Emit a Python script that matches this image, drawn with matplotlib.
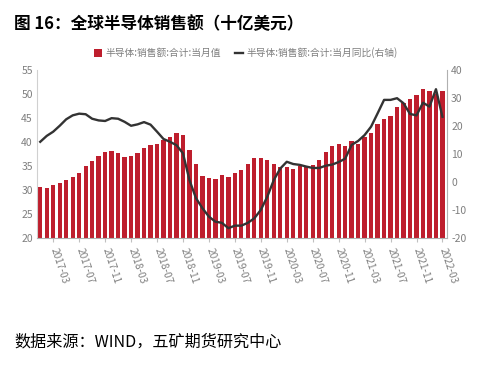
import matplotlib
matplotlib.use("Agg")
import matplotlib.pyplot as plt
from matplotlib.patches import Patch
from matplotlib.lines import Line2D
import numpy as np

plt.rcParams['font.family'] = ['Noto Sans CJK SC', 'DejaVu Sans']
plt.rcParams['axes.unicode_minus'] = False

# Monthly data 2017-01 .. 2022-03
sales = [30.6, 30.5, 31.0, 31.4, 32.0, 32.7, 33.6, 35.0, 36.0, 37.1, 37.8, 38.0, 37.6,
         36.9, 37.1, 37.6, 38.7, 39.4, 39.5, 40.3, 41.0, 41.8, 41.4, 38.3, 35.5,
         32.9, 32.4, 32.2, 33.1, 32.7, 33.5, 34.2, 35.5, 36.7, 36.7, 36.2, 35.4,
         34.8, 34.7, 34.4, 35.0, 34.7, 35.1, 36.3, 37.8, 39.1, 39.5, 39.1, 40.1, 39.6,
         41.1, 41.8, 43.7, 44.7, 45.4, 47.2, 48.1, 48.8, 49.8, 50.9, 50.6, 50.0, 50.6]
yoy = [14.3, 16.4, 17.9, 20.0, 22.3, 23.7, 24.3, 24.1, 22.5, 21.9, 21.7, 22.7, 22.5,
       21.4, 20.0, 20.5, 21.3, 20.4, 17.9, 15.3, 14.3, 13.1, 10.2, 0.7, -5.7,
       -9.3, -12.3, -14.1, -14.5, -16.4, -15.5, -15.5, -14.5, -12.9, -9.9, -5.2, 0.7,
       4.8, 7.2, 6.4, 6.1, 5.5, 5.0, 5.0, 5.8, 6.2, 7.1, 8.3, 13.2, 14.6,
       16.7, 19.7, 24.4, 29.2, 29.2, 29.8, 28.0, 24.2, 23.7, 28.2, 26.8, 33.0, 23.2]
tick_labels = ['2017-03', '2017-07', '2017-11', '2018-03', '2018-07', '2018-11',
               '2019-03', '2019-07', '2019-11', '2020-03', '2020-07', '2020-11',
               '2021-03', '2021-07', '2021-11', '2022-03']
tick_pos = [2 + 4 * i for i in range(len(tick_labels))]

label_bar = '半导体:销售额:合计:当月值'
label_line = '半导体:销售额:合计:当月同比(右轴)'

W, H = 481, 365
fig = plt.figure(figsize=(W / 100, H / 100), dpi=100)
ax = fig.add_axes([37 / W, 1 - 238.3 / H, (447 - 37) / W, (238.3 - 69.5) / H])

grey = '#7f7f7f'
red = '#BE1E2D'
x = np.arange(len(sales))
ax.bar(x, sales, width=0.66, color=red, zorder=2)
ax.set_ylim(20, 55)
ax.set_yticks(np.arange(20, 56, 5))
ax.set_xlim(-0.5, len(sales) - 0.3)
ax.set_xticks(tick_pos)
ax.set_xticklabels(tick_labels, rotation=-72, ha='left', va='center',
                   rotation_mode='anchor')

ax2 = ax.twinx()
ax2.plot(x, yoy, color='#333333', lw=1.7, zorder=3, solid_joinstyle='round')
ax2.set_ylim(-20, 40)
ax2.set_yticks(np.arange(-20, 41, 10))

for a in (ax, ax2):
    for s in a.spines.values():
        s.set_visible(False)
    a.tick_params(colors=grey, labelsize=7.5, length=0, pad=3)
ax.spines['left'].set_visible(True)
ax.spines['left'].set_color('#d0d0d0')
ax.spines['bottom'].set_visible(True)
ax.spines['bottom'].set_color('#b0b0b0')
ax2.spines['right'].set_visible(True)
ax2.spines['right'].set_color('#b0b0b0')
ax.tick_params(axis='x', length=3, color='#c0c0c0', pad=4, labelsize=7.3)

fig.text(14 / W, 1 - 24 / H, '图 16：全球半导体销售额（十亿美元）', fontsize=12,
         fontweight='bold', color='black', va='center', ha='left')
fig.text(14 / W, 1 - 342 / H, '数据来源：WIND，五矿期货研究中心', fontsize=11.6,
         color='black', va='center', ha='left')

handles = [Patch(facecolor=red, edgecolor='none'),
           Line2D([0], [0], color='#333333', lw=1.7)]
leg = fig.legend(handles, [label_bar, label_line], loc='center',
                 bbox_to_anchor=(246 / W, 1 - 53 / H), ncol=2, frameon=False,
                 fontsize=7, handlelength=0.8, handleheight=0.8,
                 handletextpad=0.4, columnspacing=1.4)
for t in leg.get_texts():
    t.set_color(grey)

fig.savefig('out.png', dpi=100)
